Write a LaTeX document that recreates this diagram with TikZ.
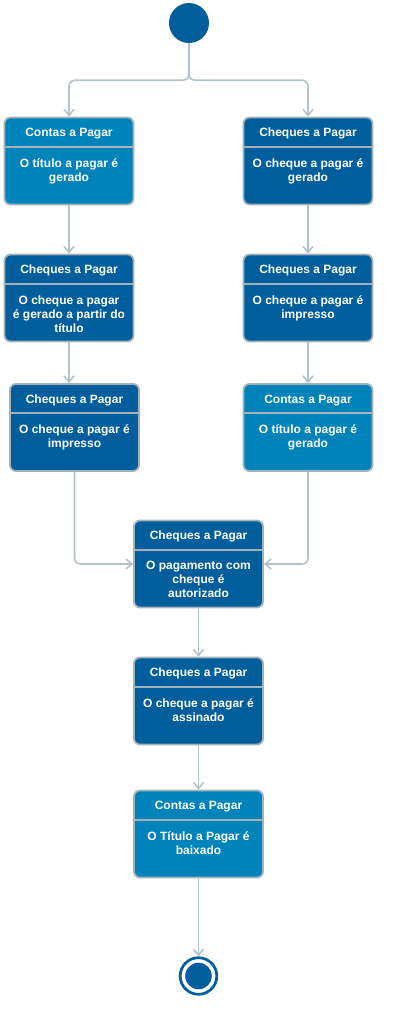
\documentclass[tikz,border=0pt]{standalone}
\usepackage{fontspec}
\setmainfont{Liberation Sans}
\usetikzlibrary{arrows.meta,calc}
\definecolor{darkb}{HTML}{005E9C}
\definecolor{lightb}{HTML}{0083BB}
\definecolor{bordg}{HTML}{A3B1B9}
\definecolor{conng}{HTML}{B4C2C9}
\tikzset{
  actbox/.style={draw=bordg, line width=1.8pt, rounded corners=6pt,
    minimum width=129pt, minimum height=87pt, inner sep=0pt},
  divline/.style={draw=bordg, line width=1.8pt},
  hdr/.style={text=white, font=\bfseries\fontsize{12}{14}\selectfont, inner sep=0pt, anchor=base},
  bodytxt/.style={text=white, font=\bfseries\fontsize{12}{14}\selectfont, inner sep=0pt, align=center, anchor=north},
  conn/.style={draw=conng, line width=1.6pt, -{Straight Barb[length=6pt,width=10pt,line width=1.6pt]}},
}
\newcommand\actbox[6]{%
  \node[actbox, fill=#4] (#1) at (#2,#3) {};
  \draw[divline] ([yshift=-30pt]#1.north west) -- ([yshift=-30pt]#1.north east);
  \node[hdr] (#1h) at ([yshift=-20pt]#1.north) {#5};
  \node[bodytxt] (#1b) at ([yshift=-41.5pt]#1.north) {#6};
}
\begin{document}
\begin{tikzpicture}[x=1pt,y=-1pt]
\useasboundingbox (0,0) rectangle (401,1015);
\node[circle, fill=darkb, minimum size=40pt, inner sep=0pt] (start) at (189,23) {};
\actbox{L1}{69}{161}{lightb}{Contas a Pagar}{O título a pagar é\\gerado}
\actbox{R1}{308}{161}{darkb}{Cheques a Pagar}{O cheque a pagar é\\gerado}
\actbox{L2}{69}{298}{darkb}{Cheques a Pagar}{O cheque a pagar\\é gerado a partir do\\título}
\actbox{R2}{308}{298}{darkb}{Cheques a Pagar}{O cheque a pagar é\\impresso}
\actbox{L3}{74.5}{427.5}{darkb}{Cheques a Pagar}{O cheque a pagar é\\impresso}
\actbox{R3}{308}{427.5}{lightb}{Contas a Pagar}{O título a pagar é\\gerado}
\actbox{M1}{198.5}{564}{darkb}{Cheques a Pagar}{O pagamento com\\cheque é\\autorizado}
\actbox{M2}{198.5}{701}{darkb}{Cheques a Pagar}{O cheque a pagar é\\assinado}
\actbox{M3}{198.5}{834}{lightb}{Contas a Pagar}{O Título a Pagar é\\baixado}
\node[circle, draw=darkb, line width=2.7pt, fill=white, minimum size=36.6pt, inner sep=0pt] (end) at (198.5,976) {};
\node[circle, fill=darkb, minimum size=26.6pt, inner sep=0pt] (enddot) at (end.center) {};
\draw[conn, rounded corners=6pt] (start.south) -- ++(0,37) -| (L1.north);
\draw[conn, rounded corners=6pt] (start.south) -- ++(0,37) -| (R1.north);
\draw[conn] (L1.south) -- (L2.north);
\draw[conn] (L2.south) -- (L2.south |- L3.north);
\draw[conn] (R1.south) -- (R2.north);
\draw[conn] (R2.south) -- (R3.north);
\draw[conn, rounded corners=6pt] (L3.south) |- (M1.west);
\draw[conn, rounded corners=6pt] (R3.south) |- (M1.east);
\draw[conn] (M1.south) -- (M2.north);
\draw[conn] (M2.south) -- (M3.north);
\draw[conn] (M3.south) -- (end.north);
\end{tikzpicture}
\end{document}
